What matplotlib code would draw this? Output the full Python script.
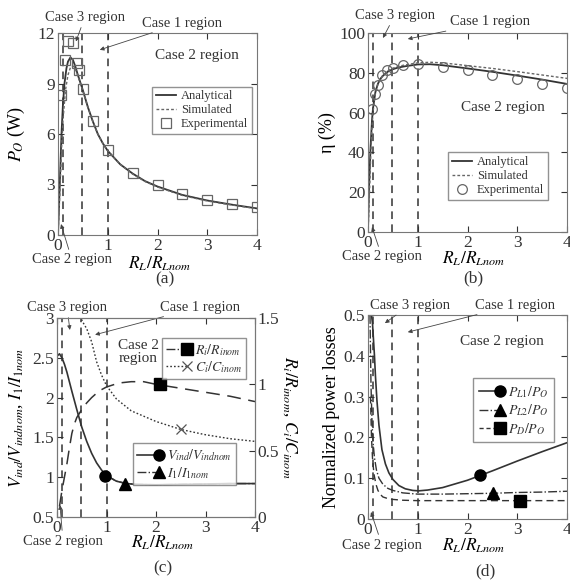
import matplotlib
matplotlib.use("Agg")
import matplotlib.pyplot as plt
from matplotlib.lines import Line2D
from matplotlib.legend_handler import HandlerBase
from matplotlib.ticker import FormatStrFormatter

plt.rcParams['font.family'] = ['Liberation Serif', 'DejaVu Serif']
plt.rcParams['mathtext.fontset'] = 'stix'
plt.rcParams['text.color'] = '#333333'
plt.rcParams['xtick.color'] = '#333333'
plt.rcParams['ytick.color'] = '#333333'

# ---- data ----
# (a) output power
pa_x_ana = [0, 0.03, 0.07, 0.1, 0.13, 0.17, 0.2, 0.25, 0.3, 0.35, 0.4, 0.45, 0.5, 0.6, 0.7, 0.8, 0.9, 1.0, 1.25, 1.5, 1.75, 2, 2.5, 3, 3.5, 4]
pa_y_ana = [0, 2.5, 6.0, 7.8, 9.0, 9.9, 10.3, 10.55, 10.4, 10.0, 9.5, 9.05, 8.6, 7.6, 6.75, 6.0, 5.45, 5.0, 4.2, 3.65, 3.2, 2.88, 2.38, 2.05, 1.8, 1.58]
pa_x_sim = [0, 0.03, 0.07, 0.1, 0.15, 0.2, 0.25, 0.3, 0.35, 0.4, 0.45, 0.5, 0.6, 0.7, 0.8, 0.9, 1.0, 1.25, 1.5, 1.75, 2, 2.5, 3, 3.5, 4]
pa_y_sim = [0, 2.0, 5.0, 6.8, 8.6, 9.5, 9.95, 10.05, 9.85, 9.45, 9.0, 8.55, 7.6, 6.75, 6.0, 5.45, 5.0, 4.2, 3.62, 3.18, 2.85, 2.35, 2.02, 1.78, 1.56]
pa_x_exp = [0.07, 0.14, 0.21, 0.31, 0.38, 0.42, 0.5, 0.7, 1.0, 1.5, 2, 2.5, 3, 3.5, 4]
pa_y_exp = [8.3, 10.4, 11.5, 11.4, 10.2, 9.8, 8.7, 6.8, 5.05, 3.7, 2.95, 2.45, 2.1, 1.85, 1.65]

# (b) efficiency
eta_x = [0, 0.02, 0.05, 0.08, 0.1, 0.15, 0.2, 0.25, 0.3, 0.4, 0.5, 0.6, 0.75, 1.0, 1.25, 1.5, 2, 2.5, 3, 3.5, 4]
eta_ana = [0, 22, 42, 56, 62, 70.5, 74.5, 77, 78.5, 80.6, 81.8, 82.6, 83.3, 84.2, 84.3, 83.8, 82.2, 80.5, 78.6, 76.6, 74.4]
eta_sim = [0, 12, 35, 53, 60, 70, 74.5, 77, 78.8, 81, 82.3, 83.2, 84, 85, 85.3, 85, 83.6, 82.2, 80.6, 78.9, 77.2]
eta_x_exp = [0.09, 0.15, 0.2, 0.29, 0.38, 0.5, 0.7, 1.0, 1.5, 2, 2.5, 3, 3.5, 4]
eta_y_exp = [62, 69.5, 73.7, 78.7, 81.2, 82.4, 83.7, 84.6, 83, 81.2, 78.7, 76.7, 74.5, 72.5]

# (c) normalised voltage / current (left) and Ri, Ci (right)
vind_x = [0, 0.05, 0.1, 0.15, 0.2, 0.3, 0.4, 0.5, 0.6, 0.7, 0.8, 0.9, 1.0, 1.2, 1.4, 1.6, 2, 2.5, 3, 3.5, 4]
vind_y = [2.52, 2.55, 2.5, 2.42, 2.32, 2.08, 1.85, 1.63, 1.45, 1.3, 1.18, 1.09, 1.02, 0.95, 0.92, 0.91, 0.905, 0.91, 0.915, 0.92, 0.92]
i1_x = [1.0, 1.2, 1.4, 1.6, 2, 2.5, 3, 3.5, 4]
i1_y = [1.02, 0.95, 0.92, 0.91, 0.905, 0.91, 0.915, 0.92, 0.92]
ri_x = [0.05, 0.1, 0.15, 0.2, 0.25, 0.3, 0.35, 0.4, 0.5, 0.6, 0.7, 0.85, 1.0, 1.25, 1.5, 1.75, 2.0, 2.5, 3.0, 3.5, 4]
ri_y = [0.08, 0.2, 0.3, 0.4, 0.52, 0.63, 0.7, 0.75, 0.81, 0.86, 0.9, 0.95, 0.98, 1.01, 1.02, 1.02, 1.0, 0.97, 0.94, 0.91, 0.87]
ci_x = [0.45, 0.48, 0.55, 0.6, 0.7, 0.8, 0.9, 1.0, 1.2, 1.5, 2.0, 2.5, 3.0, 3.5, 4]
ci_y = [1.6, 1.5, 1.45, 1.42, 1.32, 1.17, 1.07, 0.99, 0.89, 0.8, 0.72, 0.66, 0.62, 0.59, 0.57]
c_marks = {'vind': (0.97, 1.02), 'i1': (1.37, 0.92), 'ri': (2.08, 1.0), 'ci': (2.5, 0.66)}

# (d) normalised losses
pl1_x = [0.07, 0.09, 0.11, 0.13, 0.15, 0.18, 0.22, 0.28, 0.35, 0.42, 0.5, 0.62, 0.75, 0.9, 1.02, 1.2, 1.5, 2, 2.5, 3, 3.5, 4]
pl1_y = [0.5, 0.48, 0.44, 0.4, 0.35, 0.29, 0.23, 0.17, 0.135, 0.113, 0.097, 0.082, 0.074, 0.07, 0.069, 0.071, 0.077, 0.095, 0.118, 0.142, 0.165, 0.187]
pl2_x = [0.04, 0.06, 0.08, 0.1, 0.13, 0.17, 0.22, 0.3, 0.4, 0.5, 0.7, 1.0, 1.5, 2, 2.5, 3, 3.5, 4]
pl2_y = [0.5, 0.33, 0.24, 0.19, 0.15, 0.12, 0.1, 0.085, 0.075, 0.07, 0.064, 0.061, 0.061, 0.062, 0.063, 0.065, 0.066, 0.068]
pd_x = [0.05, 0.07, 0.09, 0.12, 0.16, 0.2, 0.25, 0.3, 0.4, 0.5, 0.7, 1, 1.5, 2, 3, 4]
pd_y = [0.3, 0.2, 0.15, 0.11, 0.085, 0.07, 0.06, 0.054, 0.05, 0.048, 0.046, 0.045, 0.045, 0.045, 0.045, 0.045]
d_marks = {'pl1': (2.25, 0.107), 'pl2': (2.52, 0.064), 'pd': (3.05, 0.045)}

region_x = [0.11, 0.48, 1.0]
x_ticks = [0, 1, 2, 3, 4]

W, H = 570, 580
LC = '#333333'
fig = plt.figure(figsize=(W / 100, H / 100), dpi=100)


def box(l, t, r, b):
    return [l / W, 1 - b / H, (r - l) / W, (b - t) / H]


def fpx(x, y):
    return (x / W, 1 - y / H)


class EndMarker(HandlerBase):
    # short line on the left, marker at its right end, like the original legends
    def create_artists(self, legend, orig_handle, xdescent, ydescent, width, height, fontsize, trans):
        y = (height - ydescent) / 2
        xm = -xdescent + width * 0.8
        line = Line2D([-xdescent, xm], [y, y])
        line.update_from(orig_handle)
        line.set_marker('None')
        mark = Line2D([xm], [y])
        mark.update_from(orig_handle)
        mark.set_linestyle('None')
        line.set_transform(trans)
        mark.set_transform(trans)
        return [line, mark]


def style(ax, ylim, yticks):
    ax.set_xlim(0, 4)
    ax.set_ylim(*ylim)
    ax.set_xticks(x_ticks)
    ax.set_yticks(yticks)
    ax.yaxis.set_major_formatter(FormatStrFormatter('%g'))
    ax.tick_params(direction='in', length=4, labelsize=12.5, top=True, right=True, pad=2)
    for s in ax.spines.values():
        s.set_color('#777777')
    for v in region_x:
        ax.axvline(v, color=LC, lw=1.1, ls=(0, (5, 3.5)))


def regions(ax, c3, c3tip, c1, c1tip, c2, c2bot, c2bottip, c2txt='Case 2 region'):
    ap = dict(arrowstyle='-|>', color='#444444', lw=0.6, mutation_scale=6, shrinkA=1, shrinkB=0)
    ax.annotate('Case 3 region', xy=c3tip, xycoords='data', xytext=fpx(*c3), textcoords='figure fraction',
                ha='center', va='center', fontsize=10.5, arrowprops=ap, annotation_clip=False)
    ax.annotate('Case 1 region', xy=c1tip, xycoords='data', xytext=fpx(*c1), textcoords='figure fraction',
                ha='center', va='center', fontsize=10.5, arrowprops=ap, annotation_clip=False)
    ax.annotate('Case 2 region', xy=c2bottip, xycoords='data', xytext=fpx(*c2bot), textcoords='figure fraction',
                ha='center', va='center', fontsize=10.5, arrowprops=ap, annotation_clip=False)
    fig.text(*fpx(*c2), c2txt, ha='center', va='center', fontsize=11, linespacing=1.0)


leg_kw = dict(frameon=True, fancybox=False, edgecolor='#777777', borderaxespad=0)

# (a)
ax = fig.add_axes(box(58, 33, 257, 235))
style(ax, (0, 12), [0, 3, 6, 9, 12])
ax.plot(pa_x_ana, pa_y_ana, color=LC, lw=1.3, label='Analytical')
ax.plot(pa_x_sim, pa_y_sim, color='#666666', lw=1.0, ls=(0, (2, 1.5)), label='Simulated')
ax.plot(pa_x_exp, pa_y_exp, ls='none', marker='s', ms=7, mfc='none', mec='#666666', mew=0.9, label='Experimental')
ax.legend(loc='upper right', bbox_to_anchor=(0.975, 0.735), fontsize=9, handlelength=1.6, handletextpad=0.4,
          borderpad=0.3, labelspacing=0.15, numpoints=1, **leg_kw)
ax.set_ylabel('$P_O$ (W)', fontsize=13)
ax.yaxis.set_label_coords(-0.155, 0.5)
ax.set_xlabel('$R_L/R_{Lnom}$', fontsize=12.5)
ax.xaxis.set_label_coords(0.51, -0.097)
regions(ax, (85, 17), (0.36, 11.5), (182, 23), (0.84, 11.0), (197, 55), (72, 260), (0.06, 0.65))
fig.text(*fpx(165, 279), '(a)', ha='center', va='center', fontsize=12.5)

# (b)
ax = fig.add_axes(box(368, 33, 567, 232))
style(ax, (0, 100), [0, 20, 40, 60, 80, 100])
ax.plot(eta_x, eta_ana, color=LC, lw=1.3, label='Analytical')
ax.plot(eta_x, eta_sim, color='#666666', lw=1.0, ls=(0, (2, 1.5)), label='Simulated')
ax.plot(eta_x_exp, eta_y_exp, ls='none', marker='o', ms=7, mfc='none', mec='#666666', mew=0.9, label='Experimental')
ax.legend(loc='upper right', bbox_to_anchor=(0.905, 0.40), fontsize=9, handlelength=1.6, handletextpad=0.4,
          borderpad=0.3, labelspacing=0.15, numpoints=1, **leg_kw)
ax.set_ylabel('η (%)', fontsize=13)
ax.yaxis.set_label_coords(-0.16, 0.5)
ax.set_xlabel('$R_L/R_{Lnom}$', fontsize=12.5)
ax.xaxis.set_label_coords(0.53, -0.09)
regions(ax, (395, 15), (0.3, 97.5), (490, 22), (0.8, 97), (503, 108), (382, 257), (0.08, 2.5))
fig.text(*fpx(473, 278), '(b)', ha='center', va='center', fontsize=12.5)

# (c)
ax = fig.add_axes(box(57, 318, 255, 517))
style(ax, (0.5, 3), [0.5, 1, 1.5, 2, 2.5, 3])
ax.tick_params(right=False)
ax.plot(vind_x, vind_y, color=LC, lw=1.2)
ax.plot(i1_x, i1_y, color=LC, lw=1.0, ls='-.')
ax.plot(*c_marks['vind'], marker='o', ms=8, color='black', ls='none')
ax.plot(*c_marks['i1'], marker='^', ms=8, color='black', ls='none')
h_v = Line2D([], [], color=LC, lw=1.2, marker='o', ms=8, mfc='black', mec='black')
h_i = Line2D([], [], color=LC, lw=1.0, ls='-.', marker='^', ms=8, mfc='black', mec='black')
ax.legend([h_v, h_i], ['$V_{ind}/V_{indnom}$', '$I_1/I_{1nom}$'], loc='upper left', bbox_to_anchor=(0.385, 0.37),
          fontsize=10, handlelength=1.9, handletextpad=0.2, borderpad=0.3, labelspacing=0.1,
          handler_map={Line2D: EndMarker()}, **leg_kw)
ax.set_ylabel('$V_{ind}/V_{indnom}$, $I_1/I_{1nom}$', fontsize=12.5)
ax.yaxis.set_label_coords(-0.16, 0.5)
ax.set_xlabel('$R_L/R_{Lnom}$', fontsize=12.5)
ax.xaxis.set_label_coords(0.535, -0.085)
regions(ax, (67, 307), (0.26, 2.85), (200, 307), (0.77, 2.79), (138, 352), (63, 541), (0.06, 0.65),
        c2txt='Case 2\nregion')
fig.text(*fpx(163, 568), '(c)', ha='center', va='center', fontsize=12.5)

ax2 = ax.twinx()
ax2.set_ylim(0, 1.5)
ax2.set_yticks([0, 0.5, 1, 1.5])
ax2.yaxis.set_major_formatter(FormatStrFormatter('%g'))
ax2.tick_params(direction='in', length=4, labelsize=12.5, pad=2)
for s in ax2.spines.values():
    s.set_color('#777777')
ax2.plot(ri_x, ri_y, color=LC, lw=1.1, ls=(0, (9, 5)))
ax2.plot(ci_x, ci_y, color=LC, lw=1.0, ls=(0, (1.2, 1.5)))
ax2.plot(*c_marks['ri'], marker='s', ms=8, color='black', ls='none')
ax2.plot(*c_marks['ci'], marker='x', ms=7, mew=0.9, color='#555555', ls='none')
h_r = Line2D([], [], color=LC, lw=1.0, ls='-.', marker='s', ms=8, mfc='black', mec='black')
h_c = Line2D([], [], color=LC, lw=1.0, ls=(0, (1.2, 1.5)), marker='x', ms=7, mew=0.9, mec='#555555')
ax2.legend([h_r, h_c], ['$R_i/R_{inom}$', '$C_i/C_{inom}$'], loc='upper left', bbox_to_anchor=(0.53, 0.9),
           fontsize=10, handlelength=1.9, handletextpad=0.2, borderpad=0.3, labelspacing=0.1,
           handler_map={Line2D: EndMarker()}, **leg_kw)
ax2.set_ylabel('$R_i/R_{inom}$, $C_i/C_{inom}$', fontsize=12.5, rotation=270)
ax2.yaxis.set_label_coords(1.22, 0.5)
ax2.set_xlim(0, 4)

# (d)
ax = fig.add_axes(box(368, 315, 567, 519))
style(ax, (0, 0.5), [0, 0.1, 0.2, 0.3, 0.4, 0.5])
ax.plot(pl1_x, pl1_y, color=LC, lw=1.2)
ax.plot(pl2_x, pl2_y, color=LC, lw=1.0, ls='-.')
ax.plot(pd_x, pd_y, color=LC, lw=1.0, ls=(0, (5, 3)))
ax.plot(*d_marks['pl1'], marker='o', ms=8, color='black', ls='none')
ax.plot(*d_marks['pl2'], marker='^', ms=8, color='black', ls='none')
ax.plot(*d_marks['pd'], marker='s', ms=8, color='black', ls='none')
h1 = Line2D([], [], color=LC, lw=1.2, marker='o', ms=8, mfc='black', mec='black')
h2 = Line2D([], [], color=LC, lw=1.0, ls='-.', marker='^', ms=8, mfc='black', mec='black')
h3 = Line2D([], [], color=LC, lw=1.0, ls=(0, (3, 2)), marker='s', ms=8, mfc='black', mec='black')
ax.legend([h1, h2, h3], ['$P_{L1}/P_O$', '$P_{L2}/P_O$', '$P_D/P_O$'], loc='upper left', bbox_to_anchor=(0.53, 0.69),
          fontsize=10, handlelength=1.9, handletextpad=0.2, borderpad=0.4, labelspacing=0.2,
          handler_map={Line2D: EndMarker()}, **leg_kw)
ax.set_ylabel('Normalized power losses', fontsize=13)
ax.yaxis.set_label_coords(-0.14, 0.5)
ax.set_xlabel('$R_L/R_{Lnom}$', fontsize=12.5)
ax.xaxis.set_label_coords(0.53, -0.085)
regions(ax, (410, 305), (0.34, 0.48), (515, 305), (0.8, 0.458), (502, 342), (382, 545), (0.06, 0.017))
fig.text(*fpx(485, 571), '(d)', ha='center', va='center', fontsize=12.5)

fig.savefig('out.png', dpi=100)
